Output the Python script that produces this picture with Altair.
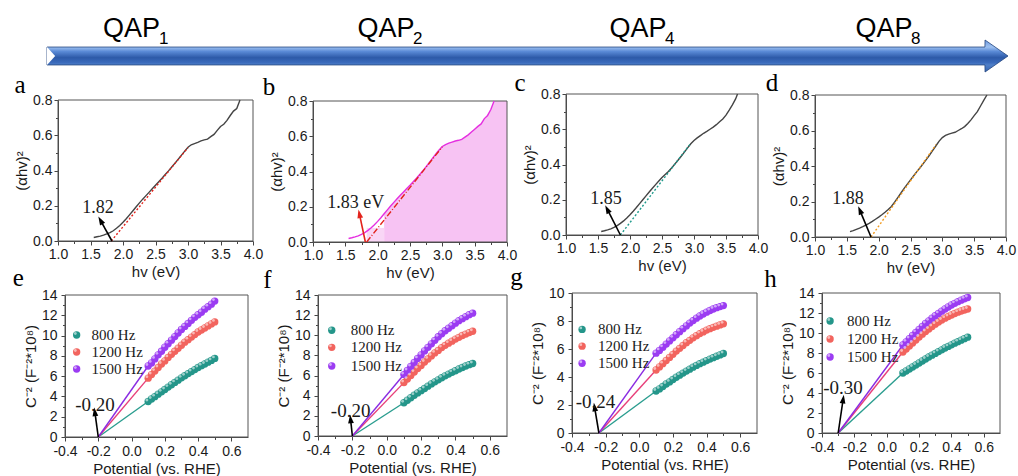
import math
import altair as alt
import pandas as pd

W, H = 1018, 476

# ---------------- banner ----------------
STAGE_TEXT = ["QAP", "QAP", "QAP", "QAP"]
STAGE_SUB = ["1", "2", "4", "8"]
STAGE_X = [0.0879, 0.3528, 0.6150, 0.8710]
STAGE_SUB_X = [0.1214, 0.3858, 0.6480, 0.9040]
ARROW_X = [0.0, 0.9760, 0.9761, 1.0]
ARROW_TOP = [0.56, 0.56, 1.0, 0.0]
ARROW_BOT = [-0.56, -0.56, -1.0, 0.0]
NOTCH_X = [0.0, 0.0085]
NOTCH_TOP = [0.56, 0.0]
NOTCH_BOT = [-0.56, 0.0]

# ---------------- Tauc plots (a-d) ----------------
HV_A = [1.55, 1.60, 1.65, 1.70, 1.75, 1.80, 1.85, 1.90, 1.95, 2.00, 2.05, 2.10, 2.15, 2.20, 2.25, 2.30,
        2.35, 2.40, 2.45, 2.50, 2.55, 2.60, 2.65, 2.70, 2.75, 2.80, 2.85, 2.90, 2.95, 3.00, 3.05, 3.10,
        3.15, 3.20, 3.25, 3.30, 3.35, 3.40, 3.45, 3.50, 3.55, 3.60, 3.65, 3.70, 3.75, 3.80]
AB_A = [0.020, 0.024, 0.028, 0.033, 0.040, 0.048, 0.058, 0.072, 0.088, 0.106, 0.126, 0.148, 0.170, 0.193,
        0.215, 0.236, 0.256, 0.276, 0.296, 0.316, 0.336, 0.356, 0.377, 0.398, 0.420, 0.442, 0.464, 0.487,
        0.510, 0.532, 0.546, 0.553, 0.560, 0.568, 0.574, 0.578, 0.592, 0.605, 0.628, 0.650, 0.662, 0.684,
        0.712, 0.737, 0.752, 0.800]
FIT_A_X = [1.82, 3.00]
FIT_A_Y = [0.0, 0.53]

HV_B = HV_A
AB_B = [0.020, 0.024, 0.029, 0.035, 0.043, 0.053, 0.066, 0.081, 0.098, 0.117, 0.138, 0.160, 0.182, 0.204,
        0.225, 0.245, 0.265, 0.284, 0.303, 0.322, 0.342, 0.362, 0.383, 0.405, 0.428, 0.452, 0.476, 0.500,
        0.522, 0.542, 0.553, 0.561, 0.567, 0.573, 0.577, 0.582, 0.595, 0.608, 0.624, 0.640, 0.656, 0.670,
        0.700, 0.718, 0.752, 0.800]
FIT_B_X = [1.83, 3.00]
FIT_B_Y = [0.0, 0.54]
FILL_B_START = 2.10
FILL_B_EXT_X = [3.90, 4.00]
FILL_B_EXT_Y = [0.80, 0.80]
FILL_B_LOW = [1.83, 2.10, 0.08]

HV_C = [1.55, 1.60, 1.65, 1.70, 1.75, 1.80, 1.85, 1.90, 1.95, 2.00, 2.05, 2.10, 2.15, 2.20, 2.25, 2.30,
        2.35, 2.40, 2.45, 2.50, 2.55, 2.60, 2.65, 2.70, 2.75, 2.80, 2.85, 2.90, 2.95, 3.00, 3.05, 3.10,
        3.15, 3.20, 3.25, 3.30, 3.35, 3.40, 3.45, 3.50, 3.55, 3.60, 3.65, 3.68]
AB_C = [0.020, 0.024, 0.029, 0.035, 0.043, 0.053, 0.066, 0.080, 0.097, 0.115, 0.135, 0.156, 0.178, 0.200,
        0.222, 0.244, 0.265, 0.286, 0.306, 0.326, 0.343, 0.360, 0.380, 0.402, 0.424, 0.447, 0.470, 0.494,
        0.518, 0.536, 0.551, 0.564, 0.577, 0.588, 0.600, 0.612, 0.626, 0.642, 0.658, 0.680, 0.708, 0.738,
        0.772, 0.800]
FIT_C_X = [1.85, 2.95]
FIT_C_Y = [0.0, 0.52]

HV_D = [1.55, 1.60, 1.65, 1.70, 1.75, 1.80, 1.85, 1.90, 1.95, 2.00, 2.05, 2.10, 2.15, 2.20, 2.25, 2.30,
        2.35, 2.40, 2.45, 2.50, 2.55, 2.60, 2.65, 2.70, 2.75, 2.80, 2.85, 2.90, 2.95, 3.00, 3.05, 3.10,
        3.15, 3.20, 3.25, 3.30, 3.35, 3.40, 3.45, 3.50, 3.55, 3.60, 3.65, 3.70]
AB_D = [0.030, 0.036, 0.043, 0.050, 0.058, 0.067, 0.077, 0.088, 0.100, 0.112, 0.125, 0.139, 0.155, 0.172,
        0.196, 0.222, 0.248, 0.274, 0.298, 0.322, 0.345, 0.368, 0.390, 0.413, 0.437, 0.462, 0.488, 0.514,
        0.540, 0.560, 0.572, 0.580, 0.585, 0.590, 0.600, 0.610, 0.622, 0.640, 0.660, 0.684, 0.706, 0.738,
        0.770, 0.800]
FIT_D_X = [1.88, 2.90]
FIT_D_Y = [0.0, 0.52]

TOP_X_TICKS = [1.0, 1.5, 2.0, 2.5, 3.0, 3.5, 4.0]
TOP_X_MINOR = [1.25, 1.75, 2.25, 2.75, 3.25, 3.75]
TOP_Y_TICKS = [0.0, 0.2, 0.4, 0.6, 0.8]
TOP_Y_MINOR = [0.1, 0.3, 0.5, 0.7]

# ---------------- Mott-Schottky (e-h) ----------------
SERIES = ["800 Hz", "1200 Hz", "1500 Hz"]
POT = [0.10, 0.12, 0.14, 0.16, 0.18, 0.20, 0.22, 0.24, 0.26, 0.28, 0.30, 0.32, 0.34, 0.36, 0.38, 0.40,
       0.42, 0.44, 0.46, 0.48, 0.50]
E_800 = [3.50, 3.75, 3.98, 4.22, 4.45, 4.68, 4.92, 5.15, 5.38, 5.60, 5.83, 6.04, 6.25, 6.45, 6.65, 6.85,
         7.03, 7.20, 7.38, 7.55, 7.75]
E_1200 = [5.80, 6.15, 6.50, 6.85, 7.20, 7.50, 7.85, 8.15, 8.45, 8.75, 9.05, 9.35, 9.60, 9.85, 10.10, 10.35,
          10.55, 10.75, 10.95, 11.15, 11.35]
E_1500 = [7.00, 7.30, 7.70, 8.10, 8.45, 8.85, 9.20, 9.55, 9.90, 10.25, 10.60, 10.90, 11.20, 11.50, 11.80,
          12.05, 12.30, 12.60, 12.85, 13.10, 13.40]
F_800 = [3.30, 3.55, 3.80, 4.05, 4.28, 4.50, 4.72, 4.95, 5.17, 5.38, 5.58, 5.78, 5.97, 6.15, 6.32, 6.48,
         6.65, 6.80, 6.95, 7.08, 7.20]
F_1200 = [5.30, 5.65, 6.00, 6.35, 6.70, 7.00, 7.35, 7.65, 7.95, 8.25, 8.50, 8.78, 9.00, 9.22, 9.42, 9.62,
          9.80, 9.98, 10.12, 10.27, 10.40]
F_1500 = [6.10, 6.50, 6.90, 7.30, 7.70, 8.05, 8.45, 8.80, 9.15, 9.50, 9.85, 10.15, 10.45, 10.70, 10.95,
          11.20, 11.45, 11.65, 11.85, 12.05, 12.20]
G_800 = [3.00, 3.15, 3.32, 3.50, 3.65, 3.82, 3.98, 4.13, 4.28, 4.42, 4.56, 4.70, 4.83, 4.95, 5.06, 5.17,
         5.28, 5.38, 5.48, 5.58, 5.68]
G_1200 = [4.50, 4.72, 4.95, 5.18, 5.40, 5.62, 5.85, 6.05, 6.25, 6.45, 6.62, 6.80, 6.95, 7.10, 7.22, 7.35,
          7.45, 7.55, 7.63, 7.72, 7.80]
G_1500 = [5.70, 5.90, 6.12, 6.35, 6.58, 6.80, 7.02, 7.24, 7.45, 7.65, 7.85, 8.03, 8.20, 8.36, 8.50, 8.63,
          8.75, 8.86, 8.95, 9.03, 9.10]
H_800 = [6.00, 6.20, 6.40, 6.60, 6.80, 7.00, 7.20, 7.40, 7.60, 7.78, 7.96, 8.14, 8.32, 8.50, 8.66, 8.82,
         8.98, 9.13, 9.28, 9.43, 9.58]
H_1200 = [8.10, 8.40, 8.70, 9.00, 9.30, 9.60, 9.88, 10.15, 10.40, 10.65, 10.88, 11.10, 11.30, 11.48, 11.65,
          11.80, 11.95, 12.08, 12.20, 12.30, 12.40]
H_1500 = [8.80, 9.12, 9.44, 9.76, 10.07, 10.37, 10.67, 10.95, 11.22, 11.48, 11.73, 11.96, 12.18, 12.40,
          12.60, 12.80, 12.97, 13.13, 13.28, 13.42, 13.55]
FB = {"e": -0.20, "f": -0.20, "g": -0.24, "h": -0.30}
BOT_X_TICKS = [-0.4, -0.2, 0.0, 0.2, 0.4, 0.6]
BOT_X_MINOR = [-0.3, -0.1, 0.1, 0.3, 0.5]

# ---------------- styles ----------------
SERIES_COLORS = ["#24968a", "#f2645e", "#9b3cf2"]
LINE_COLORS = ["#2a9d8f", "#e8407a", "#8a2be2"]
ARROW_SHAPE = "M0,-1L0.55,0.65L-0.55,0.65Z"
AX = dict(grid=False, ticks=True, tickSize=4, tickColor="#444", tickWidth=1,
          domainColor="#444", domainWidth=1,
          labelFont="Liberation Sans", labelFontSize=14, labelColor="#1a1a1a",
          labelFlush=False, labelOverlap=False,
          titleFont="Liberation Sans", titleFontSize=15, titleFontWeight="normal",
          titleColor="#1a1a1a", titlePadding=3)
MINOR = dict(grid=False, ticks=True, tickSize=2.5, tickColor="#444", tickWidth=1, domain=False,
             labels=False, title="")


def head_angle(base, head, xr, xd, yr, yd):
    kx = (xr[1] - xr[0]) / (xd[1] - xd[0])
    ky = (yr[0] - yr[1]) / (yd[1] - yd[0])
    dx = (head[0] - base[0]) * kx
    dy = (head[1] - base[1]) * ky
    return math.degrees(math.atan2(dx, dy)) % 360


class Panel:
    def __init__(self, xd, yd, xr, yr, xaxis, yaxis, xminor, yminor):
        self.xd, self.yd, self.xr, self.yr = xd, yd, xr, yr
        self.sx = alt.Scale(domain=xd, range=xr, nice=False, zero=False)
        self.sy = alt.Scale(domain=yd, range=yr, nice=False, zero=False)
        self.xaxis, self.yaxis = xaxis, yaxis
        self.xminor, self.yminor = xminor, yminor

    def enc(self, xf="x", yf="y", xa=None, ya=None):
        return dict(x=alt.X(f"{xf}:Q", scale=self.sx, axis=xa),
                    y=alt.Y(f"{yf}:Q", scale=self.sy, axis=ya))

    def frame_layers(self):
        df = pd.DataFrame({"x": [self.xd[0]], "x2": [self.xd[1]], "y": [self.yd[0]], "y2": [self.yd[1]]})
        main = alt.Chart(df).mark_rect(fillOpacity=0, stroke="#555", strokeWidth=1).encode(
            **self.enc(xa=self.xaxis, ya=self.yaxis), x2="x2:Q", y2="y2:Q")
        minor = alt.Chart(df).mark_rect(fillOpacity=0, strokeOpacity=0).encode(
            **self.enc(xa=self.xminor, ya=self.yminor), x2="x2:Q", y2="y2:Q")
        return [main, minor]

    def annot(self, base, head, color, label, label_xy, label_size, letter, letter_xy):
        ang = head_angle(base, head, self.xr, self.xd, self.yr, self.yd)
        rule = alt.Chart(pd.DataFrame({"x": [base[0]], "y": [base[1]], "x2": [head[0]], "y2": [head[1]]})
                         ).mark_rule(color=color, strokeWidth=1.6).encode(
            **self.enc(), x2="x2:Q", y2="y2:Q")
        pt = alt.Chart(pd.DataFrame({"x": [head[0]], "y": [head[1]]})).mark_point(
            shape=ARROW_SHAPE, filled=True, size=110, angle=ang, color=color, opacity=1,
            strokeWidth=0).encode(**self.enc())
        txt = alt.Chart(pd.DataFrame({"x": [label_xy[0]], "y": [label_xy[1]], "t": [label]})).mark_text(
            font="Liberation Serif", fontSize=label_size, color="#1a1a1a", baseline="middle",
            align="center").encode(**self.enc(), text="t:N")
        let = alt.Chart(pd.DataFrame({"x": [letter_xy[0]], "y": [letter_xy[1]], "t": [letter]})).mark_text(
            font="Liberation Serif", fontSize=25, color="black", baseline="alphabetic",
            align="center").encode(**self.enc(), text="t:N")
        return [rule, pt, txt, let]


def axes_for(xr, yr, xvals, xminor, yvals, yminor, xtitle, ytitle, xfmt, yfmt, xpad, ypad):
    xkw = dict(labelExpr=xfmt) if xfmt.startswith("replace") else dict(format=xfmt)
    xaxis = alt.Axis(orient="bottom", offset=yr[0] - H, values=xvals, title=xtitle,
                     labelPadding=xpad, **xkw, **AX)
    yaxis = alt.Axis(orient="left", offset=-xr[0], values=yvals, format=yfmt, title=ytitle,
                     labelPadding=ypad, **AX)
    xm = alt.Axis(orient="bottom", offset=yr[0] - H, values=xminor, **MINOR)
    ym = alt.Axis(orient="left", offset=-xr[0], values=yminor, **MINOR)
    return xaxis, yaxis, xm, ym


def top_panel(hv, ab, curve_color, fit_x, fit_y, fit_color, fit_dash, xr, yr,
              base, head, arrow_color, label, label_xy, letter, letter_xy, fill=False):
    xd, yd = [1.0, 4.0], [0.0, 0.8]
    axes = axes_for(xr, yr, TOP_X_TICKS, TOP_X_MINOR, TOP_Y_TICKS, TOP_Y_MINOR,
                    "hv (eV)", "(αhv)²", ".1f", ".1f", 2, 2)
    P = Panel(xd, yd, xr, yr, *axes)
    layers = []
    if fill:
        fx = [v for v in hv if v >= FILL_B_START] + FILL_B_EXT_X
        fy = [a for v, a in zip(hv, ab) if v >= FILL_B_START] + FILL_B_EXT_Y
        layers.append(alt.Chart(pd.DataFrame({"x": fx, "y": fy})).mark_area(
            color="#f7c3f3", opacity=1).encode(**P.enc()))
        low = pd.DataFrame({"x": [FILL_B_LOW[0]], "x2": [FILL_B_LOW[1]], "y": [0.0], "y2": [FILL_B_LOW[2]]})
        layers.append(alt.Chart(low).mark_rect(color="#f9d6f6").encode(**P.enc(), x2="x2:Q", y2="y2:Q"))
    layers += P.frame_layers()
    layers.append(alt.Chart(pd.DataFrame({"x": hv, "y": ab})).mark_line(
        color=curve_color, strokeWidth=1.4).encode(**P.enc()))
    layers.append(alt.Chart(pd.DataFrame({"x": fit_x, "y": fit_y})).mark_line(
        color=fit_color, strokeWidth=1.4, strokeDash=fit_dash).encode(**P.enc()))
    layers += P.annot(base, head, arrow_color, label, label_xy, 18, letter, letter_xy)
    return alt.layer(*layers).resolve_axis(x="independent", y="independent")


def bottom_panel(key, vals, ymax, yticks, yminor, xr, yr, head, label_xy, letter, letter_xy, legend_xy):
    xd, yd = [-0.4, 0.7], [0.0, ymax]
    axes = axes_for(xr, yr, BOT_X_TICKS, BOT_X_MINOR, yticks, yminor,
                    "Potential (vs. RHE)", "C⁻² (F⁻²*10⁸)",
                    "replace(format(datum.value, '.1f'), '\u2212', '-')", "d", 3, 4)
    P = Panel(xd, yd, xr, yr, *axes)
    cscale = alt.Scale(domain=SERIES, range=SERIES_COLORS)
    layers = P.frame_layers()
    fb = FB[key]
    for s, v, lc in zip(SERIES, vals, LINE_COLORS):
        layers.append(alt.Chart(pd.DataFrame({"x": [fb, POT[0]], "y": [0.0, v[0]]})).mark_line(
            color=lc, strokeWidth=1.4).encode(**P.enc()))
    rows = []
    for s, v in zip(SERIES, vals):
        for p, c in zip(POT, v):
            rows.append({"x": p, "y": c, "s": s})
    pts = pd.DataFrame(rows)
    layers.append(alt.Chart(pts).mark_circle(size=54, opacity=1).encode(
        **P.enc(), color=alt.Color("s:N", scale=cscale, legend=None)))
    layers.append(alt.Chart(pts).mark_circle(size=8, opacity=0.55, color="white", xOffset=-1.3,
                                             yOffset=-1.5).encode(**P.enc()))
    lx, tx, lys = legend_xy
    leg = pd.DataFrame({"x": [lx] * 3, "tx": [tx] * 3, "y": lys, "s": SERIES})
    layers.append(alt.Chart(leg).mark_circle(size=54, opacity=1).encode(
        **P.enc(), color=alt.Color("s:N", scale=cscale, legend=None)))
    layers.append(alt.Chart(leg).mark_circle(size=8, opacity=0.55, color="white", xOffset=-1.3,
                                             yOffset=-1.5).encode(**P.enc()))
    layers.append(alt.Chart(leg).mark_text(font="Liberation Serif", fontSize=15, color="#1a1a1a",
                                           align="left", baseline="middle").encode(
        **P.enc(xf="tx"), text="s:N"))
    label = f"{fb:.2f}"
    layers += P.annot((fb, 0.0), head, "black", label, label_xy, 19, letter, letter_xy)
    return alt.layer(*layers).resolve_axis(x="independent", y="independent")


# ---------------- banner chart ----------------
bsx = alt.Scale(domain=[0.0, 1.0], range=[47, 1008], nice=False, zero=False)
bsy = alt.Scale(domain=[-1.0, 1.0], range=[72, 40], nice=False, zero=False)
grad = alt.Gradient(gradient="linear", x1=0, x2=0, y1=0, y2=1, stops=[
    alt.GradientStop(color="#6f9be0", offset=0.0),
    alt.GradientStop(color="#9dc0f0", offset=0.22),
    alt.GradientStop(color="#5a8ad6", offset=0.36),
    alt.GradientStop(color="#2d5aa8", offset=0.55),
    alt.GradientStop(color="#3a6abb", offset=0.70),
    alt.GradientStop(color="#4f7fc8", offset=0.78),
    alt.GradientStop(color="#3563b0", offset=1.0)])
arrow_df = pd.DataFrame({"x": ARROW_X, "t": ARROW_TOP, "b": ARROW_BOT})
banner_arrow = alt.Chart(arrow_df).mark_area(color=grad, stroke="#23457f", strokeWidth=0.8).encode(
    x=alt.X("x:Q", scale=bsx, axis=None), y=alt.Y("t:Q", scale=bsy, axis=None), y2="b:Q")
notch = alt.Chart(pd.DataFrame({"x": NOTCH_X, "t": NOTCH_TOP, "b": NOTCH_BOT})).mark_area(
    color="white").encode(x=alt.X("x:Q", scale=bsx, axis=None), y=alt.Y("t:Q", scale=bsy, axis=None),
                          y2="b:Q")
stage_df = pd.DataFrame({"x": STAGE_X, "xs": STAGE_SUB_X, "t": STAGE_TEXT, "s": STAGE_SUB,
                         "y": [1.19] * 4, "ys": [0.75] * 4})
stage_txt = alt.Chart(stage_df).mark_text(font="Liberation Sans", fontSize=27, color="black",
                                          baseline="alphabetic", align="center").encode(
    x=alt.X("x:Q", scale=bsx, axis=None), y=alt.Y("y:Q", scale=bsy, axis=None), text="t:N")
stage_sub = alt.Chart(stage_df).mark_text(font="Liberation Sans", fontSize=17, color="black",
                                          baseline="alphabetic", align="center").encode(
    x=alt.X("xs:Q", scale=bsx, axis=None), y=alt.Y("ys:Q", scale=bsy, axis=None), text="s:N")
banner = alt.layer(banner_arrow, notch, stage_txt, stage_sub)

# ---------------- panels ----------------
pa = top_panel(HV_A, AB_A, "#444444", FIT_A_X, FIT_A_Y, "#e3231c", [2, 2], [58, 253], [241, 100],
               (1.83, 0.0), (1.66, 0.113), "black", "1.82", (1.615, 0.19), "a", (0.415, 0.841))
pb = top_panel(HV_B, AB_B, "#e52fe0", FIT_B_X, FIT_B_Y, "#e3231c", [6, 2, 1, 2], [313, 507], [242, 101],
               (1.81, 0.0), (1.72, 0.155), "#e3231c", "1.83 eV", (1.66, 0.22), "b", (0.32, 0.834),
               fill=True)
pc = top_panel(HV_C, AB_C, "#444444", FIT_C_X, FIT_C_Y, "#1f9a8c", [2, 2], [566, 758], [235, 94],
               (1.85, 0.0), (1.65, 0.142), "black", "1.85", (1.625, 0.205), "c", (0.281, 0.819))
pd_ = top_panel(HV_D, AB_D, "#444444", FIT_D_X, FIT_D_Y, "#f29a1e", [2, 2], [815, 1006], [237, 95],
                (1.88, 0.0), (1.71, 0.146), "black", "1.88", (1.52, 0.215), "d", (0.325, 0.824))

Y14 = list(range(0, 15, 2))
Y14_MINOR = list(range(1, 14, 2))
Y10 = list(range(0, 11, 2))
Y10_MINOR = list(range(1, 10, 2))
pe = bottom_panel("e", [E_800, E_1200, E_1500], 14, Y14, Y14_MINOR, [65, 248], [437, 295],
                  (-0.22, 2.4), (-0.22, 3.2), "e", (-0.68, 14.9),
                  (-0.33, -0.24, [10.06, 8.38, 6.7]))
pf = bottom_panel("f", [F_800, F_1200, F_1500], 14, Y14, Y14_MINOR, [318, 507], [436, 295],
                  (-0.21, 1.6), (-0.21, 2.5), "f", (-0.694, 14.7),
                  (-0.32, -0.21, [10.5, 8.8, 6.95]))
pg = bottom_panel("g", [G_800, G_1200, G_1500], 10, Y10, Y10_MINOR, [572, 757], [433, 293],
                  (-0.265, 1.8), (-0.26, 2.2), "g", (-0.73, 10.57),
                  (-0.34, -0.245, [7.4, 6.2, 4.98]))
ph = bottom_panel("h", [H_800, H_1200, H_1500], 14, Y14, Y14_MINOR, [822, 1000], [433, 293],
                  (-0.27, 3.3), (-0.27, 4.5), "h", (-0.719, 14.6),
                  (-0.35, -0.245, [11.2, 9.4, 7.6]))

chart = alt.layer(banner, pa, pb, pc, pd_, pe, pf, pg, ph).resolve_scale(
    x="independent", y="independent").properties(
    width=W, height=H, autosize=alt.AutoSizeParams(type="none"), padding=0, background="white"
).configure_view(stroke=None)

chart.save("out.html", embed_options={"renderer": "svg", "actions": False})
